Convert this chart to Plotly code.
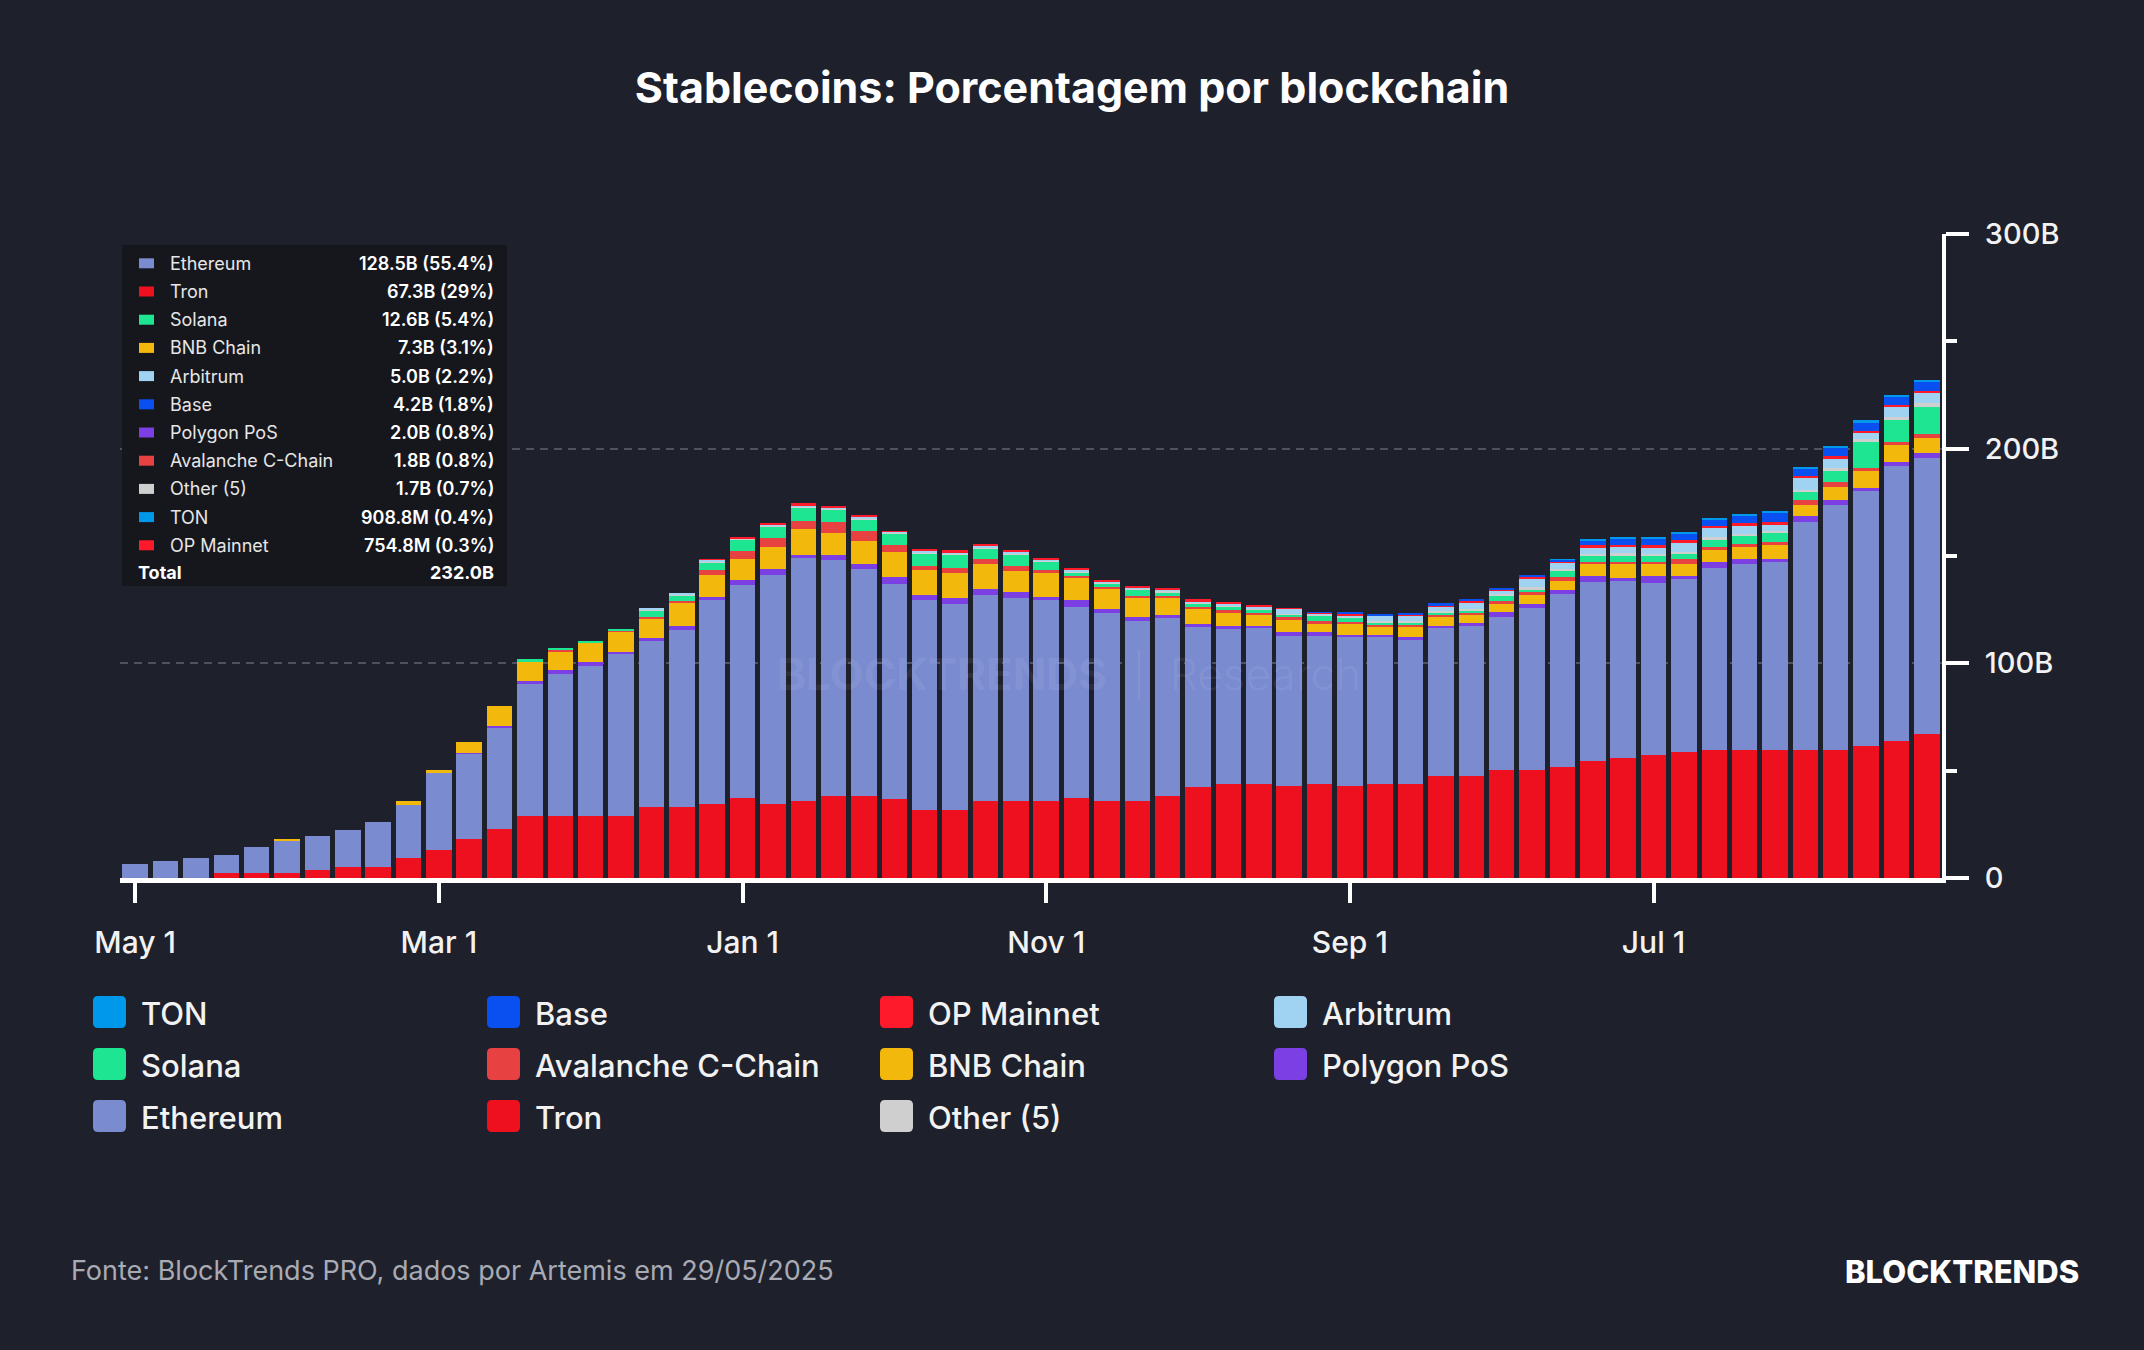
import plotly.graph_objects as go
import pandas as pd

# ---------------- data (values in billions USD) ----------------
months = [d.strftime("%Y-%m-%d") for d in pd.date_range("2020-05-01", periods=60, freq="MS")]
tick_months = months[::10]
tick_labels = ["May 1", "Mar 1", "Jan 1", "Nov 1", "Sep 1", "Jul 1"]
y_tick_vals = [0, 100, 200, 300]
y_tick_labels = ["0", "100B", "200B", "300B"]
y_minor_vals = [50, 150, 250]

tron = [0, 0, 0, 2.2, 2.2, 2.2, 3.7, 5.3, 5.3, 9.2,
        13.0, 18.3, 22.7, 28.9, 28.9, 29.0, 29.0, 33.3, 33.3, 34.6,
        37.2, 34.6, 35.7, 38.3, 38.3, 36.9, 31.8, 31.8, 35.7, 35.7,
        35.7, 37.2, 35.7, 35.7, 38.3, 42.4, 43.9, 43.9, 42.7, 43.9,
        42.7, 43.9, 43.9, 47.7, 47.7, 50.3, 50.3, 51.9, 54.6, 55.8,
        57.1, 58.7, 59.7, 59.7, 59.7, 59.7, 59.7, 61.3, 64.0, 67.3]
ethereum = [6.5, 7.8, 9.2, 8.4, 12.4, 15.1, 16.0, 17.0, 20.9, 24.8,
            35.7, 39.7, 47.4, 61.6, 66.1, 69.6, 75.3, 77.2, 82.4, 94.7,
            99.4, 106.4, 113.4, 109.7, 105.5, 100.2, 97.5, 95.9, 96.2, 94.8,
            93.9, 89.0, 87.8, 84.2, 82.9, 74.4, 72.1, 72.4, 70.2, 69.0,
            69.4, 68.2, 67.4, 68.6, 69.6, 71.5, 75.4, 80.5, 83.2, 82.5,
            80.4, 80.4, 84.9, 86.4, 87.5, 106.1, 113.9, 118.9, 128.1, 128.5]
polygon = [0, 0, 0, 0, 0, 0, 0, 0, 0, 0,
           0, 0.4, 0.5, 1.1, 1.8, 2.0, 1.0, 1.4, 1.9, 1.6,
           2.0, 2.8, 1.6, 2.6, 2.6, 3.1, 2.6, 2.6, 2.6, 2.6,
           1.2, 3.1, 1.6, 1.6, 1.4, 1.6, 1.3, 1.3, 1.6, 1.6,
           1.1, 1.1, 0.8, 1.2, 1.4, 1.9, 2.0, 1.9, 2.8, 1.6,
           3.1, 1.6, 2.7, 2.4, 1.6, 2.8, 2.4, 1.6, 1.6, 2.0]
bnb = [0, 0, 0, 0, 0, 1.0, 0, 0, 0, 1.7,
       1.4, 5.1, 9.5, 9.0, 8.7, 9.0, 9.4, 9.0, 10.6, 10.1,
       10.1, 10.5, 11.9, 10.3, 10.6, 11.7, 11.4, 11.7, 11.7, 10.1,
       11.7, 10.5, 9.4, 9.0, 8.0, 7.0, 6.6, 5.1, 5.9, 3.9,
       5.1, 4.0, 4.7, 3.9, 4.0, 4.1, 4.2, 3.9, 5.5, 6.3,
       5.5, 5.5, 5.6, 5.5, 6.3, 5.0, 6.3, 7.9, 8.2, 7.3]
avalanche = [0, 0, 0, 0, 0, 0, 0, 0, 0, 0,
             0, 0, 0, 0, 0.5, 0.3, 0.6, 0.9, 1.0, 2.3,
             3.6, 3.9, 3.7, 5.0, 4.7, 3.3, 2.2, 2.5, 2.3, 2.2,
             0.9, 0.9, 1.0, 1.0, 0.8, 0.9, 0.9, 0.9, 1.1, 1.1,
             1.1, 0.8, 1.1, 1.1, 1.1, 1.1, 1.1, 2.0, 1.1, 1.1,
             1.1, 2.4, 1.1, 1.6, 1.3, 2.4, 2.0, 1.3, 1.3, 1.8]
solana = [0, 0, 0, 0, 0, 0, 0, 0, 0, 0,
          0, 0, 0, 1.2, 1.2, 0.3, 0.8, 2.8, 2.5, 3.9,
          5.3, 5.6, 6.2, 5.6, 5.5, 5.3, 5.8, 6.2, 5.1, 5.5,
          3.9, 1.6, 1.6, 2.8, 1.6, 1.6, 1.6, 1.3, 1.1, 2.6,
          2.0, 1.1, 1.2, 1.2, 0.8, 2.7, 1.6, 3.1, 3.1, 3.1,
          3.1, 2.5, 3.9, 3.9, 4.4, 3.6, 5.5, 12.2, 10.2, 12.6]
other5 = [0, 0, 0, 0, 0, 0, 0, 0, 0, 0,
          0, 0, 0, 0, 0, 0, 0, 0.4, 0.4, 0.4,
          0.4, 0.4, 0.4, 0.4, 0.4, 0.4, 0.4, 0.4, 0.4, 0.4,
          0.4, 0.5, 0.5, 0.5, 0.5, 0.5, 0.5, 0.5, 0.5, 0.5,
          0.5, 0.5, 0.5, 0.5, 0.5, 0.8, 0.8, 0.8, 0.8, 0.8,
          0.8, 0.8, 0.8, 0.8, 0.8, 1.2, 1.2, 1.2, 1.2, 1.7]
arbitrum = [0, 0, 0, 0, 0, 0, 0, 0, 0, 0,
            0, 0, 0, 0, 0, 0, 0, 0.7, 0.6, 0.7,
            0.3, 0.6, 0.6, 0.7, 0.8, 0.4, 0.5, 0.2, 0.6, 0.8,
            0.7, 0.7, 0.6, 0.3, 1.1, 0.6, 0.6, 0.7, 2.3, 0.7,
            0.3, 2.6, 2.9, 2.3, 3.1, 1.7, 3.9, 2.7, 2.8, 2.8,
            2.8, 4.2, 4.2, 3.9, 2.7, 5.6, 4.3, 3.2, 5.1, 5.0]
op_mainnet = [0, 0, 0, 0, 0, 0, 0, 0, 0, 0,
              0, 0, 0, 0, 0, 0, 0, 0, 0, 0.3,
              0.3, 0.3, 1.2, 0.3, 0.3, 0.3, 1.0, 1.3, 1.2, 0.3,
              0.3, 1.1, 0.3, 1.1, 0.3, 0.9, 1.1, 1.2, 0.3, 0.3,
              1.1, 0.3, 0.3, 0.3, 1.1, 0.4, 1.3, 0.5, 1.1, 1.1,
              1.1, 1.3, 1.3, 1.3, 1.6, 1.1, 1.3, 0.6, 0.8, 0.75]
base = [0, 0, 0, 0, 0, 0, 0, 0, 0, 0,
        0, 0, 0, 0, 0, 0, 0, 0, 0, 0,
        0, 0, 0, 0, 0, 0, 0, 0, 0, 0,
        0, 0, 0, 0, 0, 0, 0, 0, 0, 0.2,
        0.3, 0.4, 0.5, 1.1, 0.8, 0.6, 0.7, 1.1, 2.4, 3.1,
        3.0, 3.2, 2.8, 3.3, 4.2, 3.0, 3.8, 4.1, 3.8, 4.2]
ton = [0, 0, 0, 0, 0, 0, 0, 0, 0, 0,
       0, 0, 0, 0, 0, 0, 0, 0, 0, 0,
       0, 0, 0, 0, 0, 0, 0, 0, 0, 0,
       0, 0, 0, 0, 0, 0, 0, 0, 0, 0,
       0, 0, 0, 0, 0, 0, 0, 0.2, 0.4, 0.5,
       0.6, 0.7, 0.8, 0.9, 1.0, 1.1, 1.0, 0.9, 0.9, 0.91]

# stacking order bottom -> top
series_names = ["Tron", "Ethereum", "Polygon PoS", "BNB Chain", "Avalanche C-Chain",
                "Solana", "Other (5)", "Arbitrum", "OP Mainnet", "Base", "TON"]
series_values = [tron, ethereum, polygon, bnb, avalanche, solana, other5,
                 arbitrum, op_mainnet, base, ton]
colors = {
    "Tron": "#ee0f1f", "Ethereum": "#7b8bcf", "Polygon PoS": "#7b3fe4",
    "BNB Chain": "#f2b90c", "Avalanche C-Chain": "#e84142", "Solana": "#1de591",
    "Other (5)": "#cfcfcf", "Arbitrum": "#a0d2f2", "OP Mainnet": "#ff1a2b",
    "Base": "#0a50f0", "TON": "#0098ea",
}

# tooltip box (values for the latest bar, as shown)
tooltip_names = ["Ethereum", "Tron", "Solana", "BNB Chain", "Arbitrum", "Base",
                 "Polygon PoS", "Avalanche C-Chain", "Other (5)", "TON", "OP Mainnet"]
tooltip_values = ["128.5B (55.4%)", "67.3B (29%)", "12.6B (5.4%)", "7.3B (3.1%)",
                  "5.0B (2.2%)", "4.2B (1.8%)", "2.0B (0.8%)", "1.8B (0.8%)",
                  "1.7B (0.7%)", "908.8M (0.4%)", "754.8M (0.3%)"]
tooltip_total = "232.0B"

legend_rows = [["TON", "Base", "OP Mainnet", "Arbitrum"],
               ["Solana", "Avalanche C-Chain", "BNB Chain", "Polygon PoS"],
               ["Ethereum", "Tron", "Other (5)"]]

title_text = "Stablecoins: Porcentagem por blockchain"
source_text = "Fonte: BlockTrends PRO, dados por Artemis em 29/05/2025"
brand_text = "BLOCKTRENDS"

# ---------------- layout geometry ----------------
W, H = 2144, 1350
ML, MR, MT, MB = 120, 202, 234, 472
PW, PH = W - ML - MR, H - MT - MB
BG = "#1e202b"
FONT = "Inter, 'Noto Sans', sans-serif"


def fx(x):
    return (x - ML) / PW


def fy(y):
    return (H - MB - y) / PH


def rrect(x0, y0, x1, y1, r):
    rx, ry = r / PW, r / PH
    X0, X1, Y0, Y1 = fx(x0), fx(x1), fy(y0), fy(y1)
    return (f"M {X0+rx},{Y0} L {X1-rx},{Y0} Q {X1},{Y0} {X1},{Y0-ry} "
            f"L {X1},{Y1+ry} Q {X1},{Y1} {X1-rx},{Y1} L {X0+rx},{Y1} "
            f"Q {X0},{Y1} {X0},{Y1+ry} L {X0},{Y0-ry} Q {X0},{Y0} {X0+rx},{Y0} Z")


fig = go.Figure()
for name, vals in zip(series_names, series_values):
    fig.add_trace(go.Bar(x=months, y=vals, name=name,
                         marker=dict(color=colors[name], line=dict(width=0)),
                         showlegend=False))

shapes = []
annotations = []

# watermark
wm_color = "rgba(255,255,255,0.07)"
annotations.append(dict(text="<b>BLOCKTRENDS</b>", x=fx(942), y=fy(674), xref="paper", yref="paper",
                        showarrow=False, xanchor="center", yanchor="middle",
                        font=dict(family=FONT, size=44, color=wm_color, weight=800)))
annotations.append(dict(text="Research", x=fx(1265), y=fy(674), xref="paper", yref="paper",
                        showarrow=False, xanchor="center", yanchor="middle",
                        font=dict(family=FONT, size=44, color=wm_color, weight=300)))
shapes.append(dict(type="line", xref="paper", yref="paper", x0=fx(1139), x1=fx(1139),
                   y0=fy(650), y1=fy(700), line=dict(color=wm_color, width=2), layer="above"))

# tooltip box
shapes.append(dict(type="rect", xref="paper", yref="paper", x0=fx(122), x1=fx(507),
                   y0=fy(245), y1=fy(586), fillcolor="#16171d", line=dict(width=0), layer="above"))
row_y0, row_dy = 263.3, 28.2
for i, (nm, val) in enumerate(zip(tooltip_names, tooltip_values)):
    yc = row_y0 + i * row_dy
    shapes.append(dict(type="rect", xref="paper", yref="paper", x0=fx(139), x1=fx(154),
                       y0=fy(yc - 5), y1=fy(yc + 5), fillcolor=colors[nm],
                       line=dict(width=0), layer="above"))
    annotations.append(dict(text=nm, x=fx(168), y=fy(yc), xref="paper", yref="paper",
                            showarrow=False, xanchor="left", yanchor="middle",
                            font=dict(family=FONT, size=18, color="#e6e6e6")))
    annotations.append(dict(text=val, x=fx(496), y=fy(yc), xref="paper", yref="paper",
                            showarrow=False, xanchor="right", yanchor="middle",
                            font=dict(family=FONT, size=18, color="#ffffff", weight=600)))
yc = row_y0 + len(tooltip_names) * row_dy - 1
annotations.append(dict(text="Total", x=fx(136), y=fy(yc), xref="paper", yref="paper",
                        showarrow=False, xanchor="left", yanchor="middle",
                        font=dict(family=FONT, size=18, color="#ffffff", weight=700)))
annotations.append(dict(text=tooltip_total, x=fx(496), y=fy(yc), xref="paper", yref="paper",
                        showarrow=False, xanchor="right", yanchor="middle",
                        font=dict(family=FONT, size=18, color="#ffffff", weight=700)))

# custom legend
col_x = [93, 487, 880, 1274]
row_y = [1012, 1064, 1116]
for r, row in enumerate(legend_rows):
    for c, nm in enumerate(row):
        x0, yc = col_x[c], row_y[r]
        shapes.append(dict(type="path", xref="paper", yref="paper",
                           path=rrect(x0, yc - 16, x0 + 33, yc + 16, 5),
                           fillcolor=colors[nm], line=dict(width=0)))
        annotations.append(dict(text=nm, x=fx(x0 + 46), y=fy(yc + 1), xref="paper", yref="paper",
                                showarrow=False, xanchor="left", yanchor="middle",
                                font=dict(family=FONT, size=31, color="#f2f2f2", weight=500)))

# footer
annotations.append(dict(text=source_text, x=fx(69), y=fy(1270), xref="paper", yref="paper",
                        showarrow=False, xanchor="left", yanchor="middle",
                        font=dict(family=FONT, size=27, color="#a9abb4")))
annotations.append(dict(text=brand_text, x=fx(2081), y=fy(1271), xref="paper", yref="paper",
                        showarrow=False, xanchor="right", yanchor="middle",
                        font=dict(family=FONT, size=31, color="#ffffff", weight=800)))

fig.update_layout(
    width=W, height=H,
    paper_bgcolor=BG, plot_bgcolor=BG,
    margin=dict(l=ML, r=MR, t=MT, b=MB, pad=0),
    barmode="stack", bargap=0.16,
    showlegend=False,
    font=dict(family=FONT, color="#ffffff"),
    title=dict(text=title_text, x=0.5, xref="container", xanchor="center",
               y=1 - 88 / H, yref="container", yanchor="middle",
               font=dict(family=FONT, size=43, color="#ffffff", weight=700)),
    shapes=shapes, annotations=annotations,
    hovermode=False,
)
fig.update_xaxes(type="category", categoryorder="array", categoryarray=months,
                 range=[-0.5, len(months) - 0.5],
                 tickmode="array", tickvals=tick_months, ticktext=tick_labels,
                 ticks="outside", ticklen=20, tickwidth=4, tickcolor="#ffffff",
                 showline=True, linecolor="#ffffff", linewidth=5, showgrid=False,
                 zeroline=False, ticklabelstandoff=14,
                 tickfont=dict(family=FONT, size=30, color="#f2f2f2", weight=500))
fig.update_yaxes(side="right", range=[0, 300],
                 tickmode="array", tickvals=y_tick_vals, ticktext=y_tick_labels,
                 ticks="outside", ticklen=23, tickwidth=4, tickcolor="#ffffff",
                 showline=True, linecolor="#ffffff", linewidth=4,
                 showgrid=True, gridcolor="#4e5160", gridwidth=2, griddash="8px,6px",
                 zeroline=False, ticklabelstandoff=10,
                 tickfont=dict(family=FONT, size=29, color="#f2f2f2", weight=500),
                 minor=dict(tickmode="array", tickvals=y_minor_vals, ticks="outside",
                            ticklen=11, tickwidth=4, tickcolor="#ffffff", showgrid=False))

fig.write_html("out.html")
